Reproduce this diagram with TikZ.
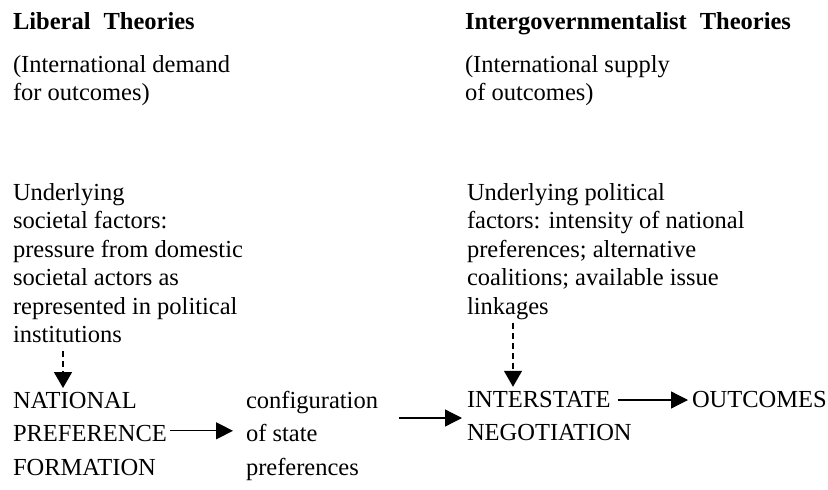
\documentclass[tikz,border=0pt]{standalone}
\usepackage{fontspec}
\setmainfont{Liberation Serif}
\usetikzlibrary{arrows.meta}
\newcommand{\bodysize}{\fontsize{24.5}{28.5}\selectfont}
\newcommand{\lowsize}{\fontsize{24.5}{33.5}\selectfont}
\newcommand{\lines}[1]{\begin{tabular}[t]{@{}l@{}}#1\end{tabular}}
\tikzset{
  txt/.style={anchor=base west, inner sep=0pt, outer sep=0pt, font=\bodysize},
  lowtxt/.style={txt, font=\lowsize},
  headtxt/.style={txt, font=\bodysize\bfseries},
  arr/.style={line width=1.3pt, -{Triangle[length=17pt,width=17pt]}},
  darr/.style={line width=1.3pt, dash pattern=on 6pt off 4pt, -{Triangle[length=16pt,width=18pt]}},
}
\begin{document}
\begin{tikzpicture}[x=1pt,y=-1pt]
\path[fill=white] (0,0) rectangle (828,490);
\useasboundingbox (0,0) rectangle (828,490);

\node[headtxt] (lhead) at (13,29) {Liberal\hspace{13pt}Theories};
\node[txt] (ldem) at (13,72) {\lines{(International demand\\for outcomes)}};
\node[headtxt] (rhead) at (465,29) {Intergovernmentalist\hspace{13pt}Theories};
\node[txt] (rsup) at (465,72) {\lines{(International supply\\of outcomes)}};

\node[txt] (soc) at (13,200) {\lines{Underlying\\societal factors:\\pressure from domestic\\societal actors as\\represented in political\\institutions}};
\node[txt] (pol) at (467,200) {\lines{Underlying political\\factors: intensity of national\\preferences; alternative\\coalitions; available issue\\linkages}};

\node[lowtxt] (nat) at (13,408) {\lines{NATIONAL\\PREFERENCE\\FORMATION}};
\node[lowtxt] (cfg) at (246,408) {\lines{configuration\\of state\\preferences}};
\node[lowtxt] (inter) at (467,407) {INTERSTATE};
\node[lowtxt] (nego) at (467,440) {NEGOTIATION};
\node[lowtxt] (out) at (692,407) {OUTCOMES};

\coordinate (cstart) at (399,418);

\draw[darr] ([xshift=50pt]soc.south west) -- ([xshift=50pt,yshift=-3.5pt]nat.north west);
\draw[darr] ([xshift=46pt]pol.south west) -- ([xshift=46pt,yshift=4pt]inter.north west);
\draw[arr] ([xshift=3pt,yshift=4pt]nat.east) -- ([xshift=-13pt,yshift=4pt]cfg.west);
\draw[arr, shorten >=5pt] (cstart) -- (cstart -| inter.west);
\draw[arr] ([xshift=7pt,yshift=7pt]inter.base east) -- ([xshift=-4pt,yshift=7pt]out.base west);
\end{tikzpicture}
\end{document}
